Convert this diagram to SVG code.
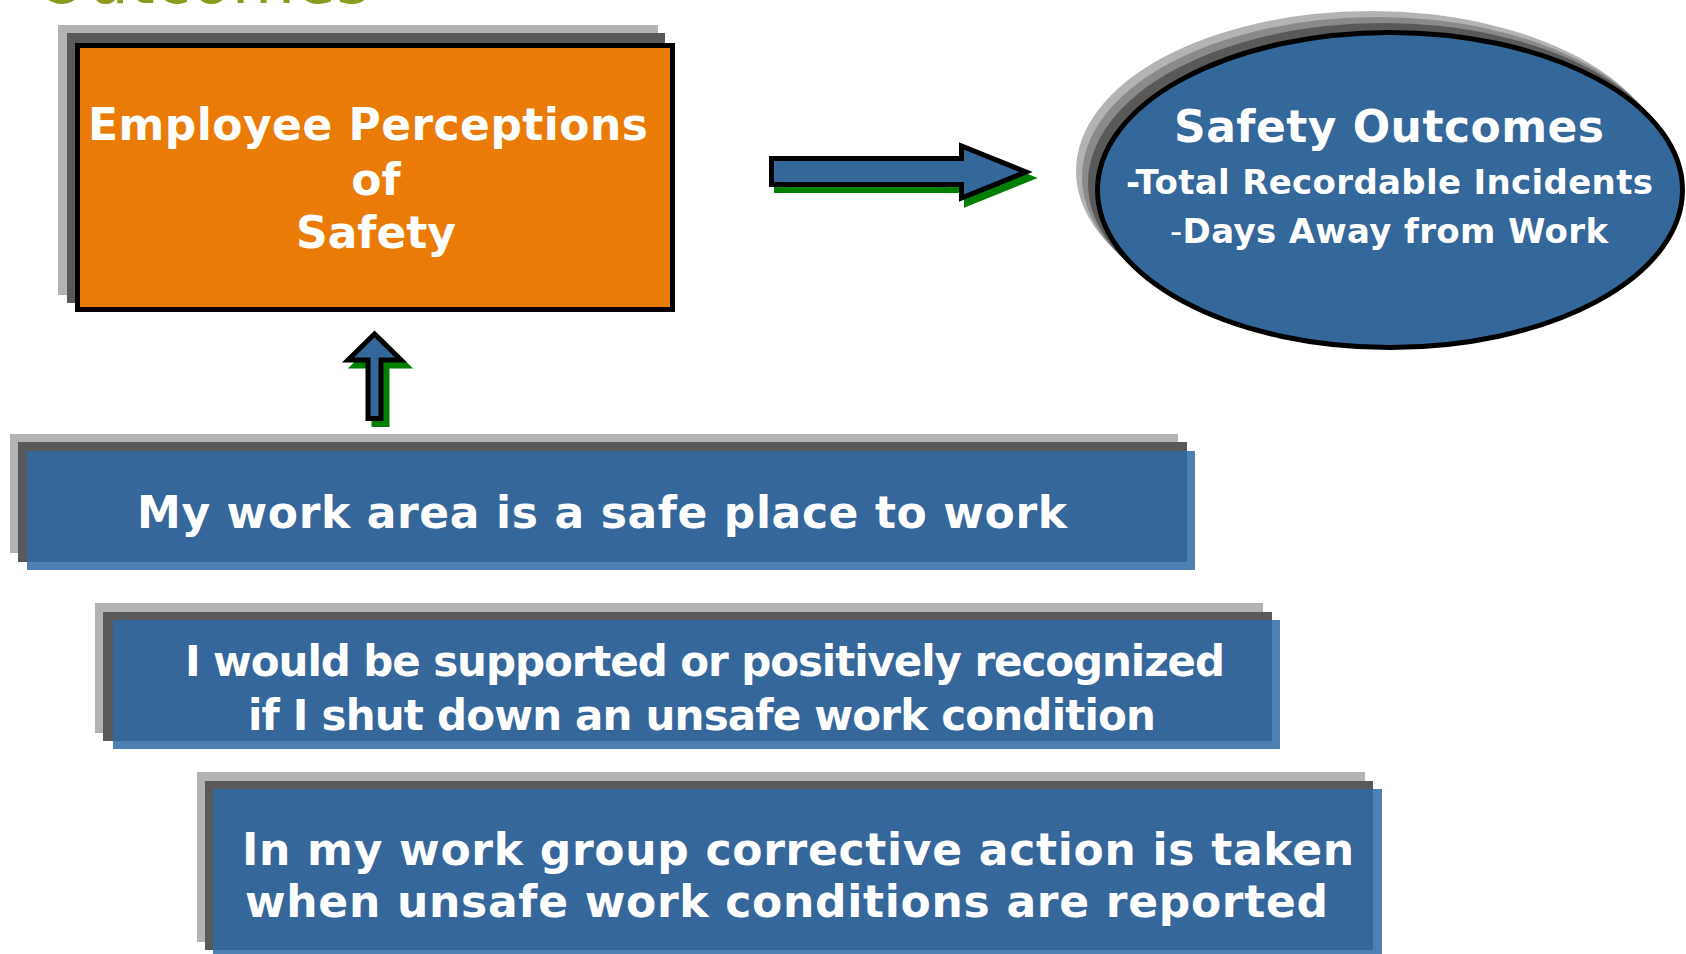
<svg xmlns="http://www.w3.org/2000/svg" width="1686" height="954" viewBox="0 0 1686 954">
  <style>
    .lbl { font-family: "DejaVu Sans", "Liberation Sans", sans-serif; font-weight: bold; fill: #ffffff; }
    .title { font-family: "DejaVu Sans", "Liberation Sans", sans-serif; fill: #8c9a1f; }
    .sh-light { fill: #b3b3b3; }
    .sh-mid { fill: #8a8a8a; }
    .sh-dark { fill: #595959; }
    .bar { fill: #306aa7; fill-opacity: 0.85; }
    .arrow { fill: #34679a; stroke: #000000; stroke-width: 5; stroke-linejoin: miter; }
    .arrow-sh { fill: #008000; stroke: #008000; stroke-width: 5; stroke-linejoin: miter; }
  </style>

  <rect width="1686" height="954" fill="#ffffff"/>

  <!-- slide heading, mostly above the top edge -->
  <g id="heading">
    <text class="title" x="36" y="3" font-size="65" textLength="334" lengthAdjust="spacing">Outcomes</text>
  </g>

  <!-- Employee Perceptions of Safety -->
  <g id="perceptions">
    <rect class="sh-light" x="58" y="25" width="600" height="270"/>
    <rect class="sh-dark" x="67" y="33" width="598" height="270"/>
    <rect x="77.5" y="45.5" width="595" height="264" fill="#ea7b06" stroke="#000000" stroke-width="5"/>
    <text class="lbl" x="88" y="140" font-size="44" textLength="560" lengthAdjust="spacing">Employee Perceptions</text>
    <text class="lbl" x="376" y="195" font-size="44" text-anchor="middle">of</text>
    <text class="lbl" x="376" y="248" font-size="44" text-anchor="middle">Safety</text>
  </g>

  <!-- Safety Outcomes -->
  <g id="outcomes">
    <ellipse class="sh-light" cx="1371" cy="171" rx="295" ry="160"/>
    <ellipse class="sh-mid" cx="1377" cy="177" rx="295" ry="160"/>
    <ellipse class="sh-dark" cx="1383" cy="183" rx="295" ry="160"/>
    <ellipse cx="1390" cy="190" rx="292.5" ry="157.5" fill="#34679a" stroke="#000000" stroke-width="5"/>
    <text class="lbl" x="1174" y="142" font-size="44" textLength="430" lengthAdjust="spacing">Safety Outcomes</text>
    <text class="lbl" x="1126" y="194" font-size="34" textLength="527" lengthAdjust="spacing">-Total Recordable Incidents</text>
    <text class="lbl" x="1170" y="243" font-size="34" textLength="438" lengthAdjust="spacing"><tspan font-weight="normal">-</tspan>Days Away from Work</text>
  </g>

  <!-- Survey item 1 -->
  <g id="item-safe-place">
    <rect class="sh-light" x="10" y="434" width="1168" height="119"/>
    <rect class="sh-dark" x="18" y="442" width="1169" height="120"/>
    <rect class="bar" x="27" y="451" width="1168" height="119"/>
    <text class="lbl" x="137" y="528" font-size="44" textLength="930" lengthAdjust="spacing">My work area is a safe place to work</text>
  </g>

  <!-- Survey item 2 -->
  <g id="item-supported">
    <rect class="sh-light" x="95" y="603" width="1168" height="130"/>
    <rect class="sh-dark" x="103" y="612" width="1169" height="129"/>
    <rect class="bar" x="113" y="620" width="1167" height="129"/>
    <text class="lbl" x="185" y="676" font-size="42" textLength="1040" lengthAdjust="spacing">I would be supported or positively recognized</text>
    <text class="lbl" x="248" y="730" font-size="42" textLength="908" lengthAdjust="spacing">if I shut down an unsafe work condition</text>
  </g>

  <!-- Survey item 3 -->
  <g id="item-corrective">
    <rect class="sh-light" x="197" y="772" width="1168" height="170"/>
    <rect class="sh-dark" x="205" y="781" width="1168" height="169"/>
    <rect class="bar" x="213" y="789" width="1169" height="170"/>
    <text class="lbl" x="242" y="865" font-size="44" textLength="1112" lengthAdjust="spacing">In my work group corrective action is taken</text>
    <text class="lbl" x="245" y="917" font-size="44" textLength="1083" lengthAdjust="spacing">when unsafe work conditions are reported</text>
  </g>

  <!-- connectors -->
  <g id="connectors">
    <g id="arrow-to-outcomes">
      <polygon class="arrow-sh" transform="translate(5,6)" points="771.5,158.5 961.5,158.5 961.5,146 1026,172 961.5,198 961.5,184.5 771.5,184.5"/>
      <polygon class="arrow" points="771.5,158.5 961.5,158.5 961.5,146 1026,172 961.5,198 961.5,184.5 771.5,184.5"/>
    </g>
    <g id="arrow-to-perceptions">
      <polygon class="arrow-sh" transform="translate(6,6)" points="368,418.5 368,360 348,360 374.5,334 401,360 381,360 381,418.5"/>
      <polygon class="arrow" points="368,418.5 368,360 348,360 374.5,334 401,360 381,360 381,418.5"/>
    </g>
  </g>
</svg>
